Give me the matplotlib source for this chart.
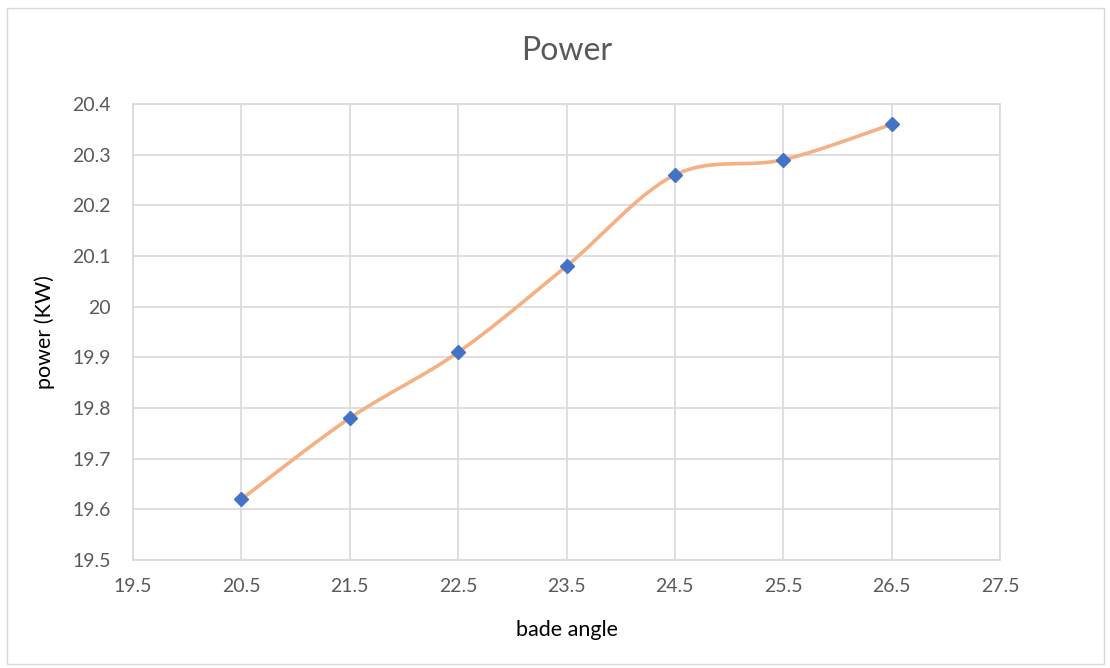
import numpy as np
import matplotlib.pyplot as plt
from matplotlib.patches import Rectangle

# data
blade_angle = [20.5, 21.5, 22.5, 23.5, 24.5, 25.5, 26.5]
power_kw = [19.62, 19.78, 19.91, 20.08, 20.26, 20.29, 20.36]
x_ticks = [19.5, 20.5, 21.5, 22.5, 23.5, 24.5, 25.5, 26.5, 27.5]
y_ticks = [19.5, 19.6, 19.7, 19.8, 19.9, 20.0, 20.1, 20.2, 20.3, 20.4]
y_ticklabels = ['19.5', '19.6', '19.7', '19.8', '19.9', '20', '20.1', '20.2', '20.3', '20.4']


def smooth_line(xs, ys, n=40):
    # excel-like smoothed line: cubic bezier segments with catmull-rom handles
    p = np.column_stack([xs, ys]).astype(float)
    out = []
    for i in range(len(p) - 1):
        p0 = p[i - 1] if i > 0 else p[i]
        p3 = p[i + 2] if i + 2 < len(p) else p[i + 1]
        c1 = p[i] + (p[i + 1] - p0) / 6
        c2 = p[i + 1] - (p3 - p[i]) / 6
        t = np.linspace(0, 1, n)[:, None]
        seg = ((1 - t) ** 3) * p[i] + 3 * ((1 - t) ** 2) * t * c1 + 3 * (1 - t) * t ** 2 * c2 + t ** 3 * p[i + 1]
        out.append(seg)
    out = np.vstack(out)
    return out[:, 0], out[:, 1]


plt.rcParams['font.family'] = ['Lato', 'DejaVu Sans']

fig = plt.figure(figsize=(11.1, 6.68), dpi=100)
ax = fig.add_axes([133 / 1110, 1 - 560 / 668, 867 / 1110, 456 / 668])

fig.patches.append(Rectangle((7 / 1110, 4 / 668), 1097 / 1110, 656 / 668, transform=fig.transFigure,
                             fill=False, edgecolor='#d9d9d9', linewidth=1))

sx, sy = smooth_line(blade_angle, power_kw)
ax.plot(sx, sy, color='#f4b183', linewidth=2.6, zorder=3)
ax.plot(blade_angle, power_kw, linestyle='none', marker='D', markersize=7,
        color='#4472c4', zorder=4)

ax.set_xlim(19.5, 27.5)
ax.set_ylim(19.5, 20.4)
ax.set_xticks(x_ticks)
ax.set_xticklabels([str(v) for v in x_ticks])
ax.set_yticks(y_ticks)
ax.set_yticklabels(y_ticklabels)
ax.grid(True, color='#d9d9d9', linewidth=1.2)
ax.set_axisbelow(True)
for s in ax.spines.values():
    s.set_color('#d9d9d9')
    s.set_linewidth(1.2)
ax.tick_params(length=0, labelsize=14, colors='#595959')
ax.tick_params(axis='y', pad=16)
ax.tick_params(axis='x', pad=13)

ax.set_title('Power', fontsize=23, color='#595959', pad=32)
ax.set_xlabel('bade angle', fontsize=15.5, color='black', labelpad=18)
ax.set_ylabel('power (KW)', fontsize=15.5, color='black', labelpad=12)

fig.savefig('out.png', dpi=100)
